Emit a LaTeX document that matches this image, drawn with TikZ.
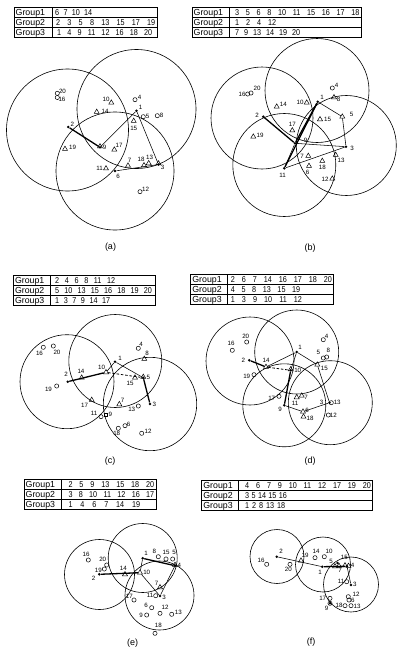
\documentclass[tikz,border=0pt]{standalone}
\usepackage{fontspec}
\setmainfont{Liberation Sans}
\newfontfamily\narrowdigits[FakeStretch=0.85]{Liberation Sans}
\usetikzlibrary{shapes.geometric}
\tikzset{
  ring/.style={line width=0.6pt},
  tabline/.style={line width=0.7pt},
  ptc/.style={circle,draw,line width=0.5pt,inner sep=0pt,minimum size=4.2pt},
  ptt/.style={regular polygon,regular polygon sides=3,draw,line width=0.5pt,inner sep=0pt,minimum size=5.8pt},
  ptd/.style={circle,fill,inner sep=0pt,minimum size=2.8pt},
  pts/.style={rectangle,draw,line width=0.5pt,inner sep=0pt,minimum size=3pt},
  lbl/.style={inner sep=0pt,font=\fontsize{6.2}{7}\selectfont},
  tgrp/.style={anchor=base west,inner sep=0pt,font=\fontsize{8.8}{10}\selectfont},
  tnum/.style={anchor=base west,inner sep=0pt,font=\narrowdigits\fontsize{8.5}{10}\selectfont},
  captext/.style={inner sep=0pt,font=\fontsize{9}{10}\selectfont},
  link/.style={line width=0.55pt},
  heavy/.style={line width=1.3pt},
  dashlink/.style={line width=0.8pt,dash pattern=on 2.5pt off 1.8pt},
}
% group table: #1 prefix, #2 left, #3 top, #4 divider, #5 right
\newcommand\gtab[5]{%
  \draw[tabline] (#2,#3) rectangle (#5,#3+30);
  \draw[tabline] (#2,#3+10) -- (#5,#3+10) (#2,#3+20) -- (#5,#3+20) (#4,#3) -- (#4,#3+30);
  \node[tgrp] (#1g1) at (#2+1.5,#3+8) {Group1};
  \node[tgrp] (#1g2) at (#2+1.5,#3+18) {Group2};
  \node[tgrp] (#1g3) at (#2+1.5,#3+28) {Group3};
}
% one row of members: #1 name, #2 x, #3 baseline, #4 width, #5 numbers
\newcommand\trow[5]{\node[tnum] (#1) at (#2,#3) {\makebox[#4pt][s]{#5}};}
% marker with its number: #1 style, #2 name, #3 position, #4 label position, #5 text
\newcommand\pnt[5]{\node[#1] (#2) at (#3) {}; \node[lbl] (#2-l) at (#4) {#5};}
\begin{document}
\begin{tikzpicture}[x=1pt,y=-1pt]
\fill[white] (0,0) rectangle (398,653);
\useasboundingbox (0,0) rectangle (398,653);

% ---------------- (a)
\gtab{ta}{14}{7.5}{52}{157}
\trow{ta1}{55}{15.5}{37}{6 7 10 14}
\trow{ta2}{56}{25.5}{99}{2 3 5 8 13 15 17 19}
\trow{ta3}{57}{35.5}{95}{1 4 9 11 12 16 18 20}
\draw[ring] (136.5,109) circle[radius=59.5pt];
\draw[ring] (67.5,130) circle[radius=61pt];
\draw[ring] (115,171) circle[radius=59pt];
\pnt{ptc}{a20}{57.3,93.3}{62.5,91}{20}
\pnt{ptc}{a16}{57.3,97.5}{62,99}{16}
\pnt{ptt}{a10}{111.3,102.7}{106,99.5}{10}
\pnt{ptc}{a4}{135,99.7}{139.5,97.5}{4}
\pnt{ptd}{a1}{136.5,110.7}{140.5,107.5}{1}
\pnt{ptc}{a5}{143.3,116.7}{147.5,116.5}{5}
\pnt{ptc}{a8}{157.3,115.7}{161.7,115.5}{8}
\pnt{ptt}{a14}{96.7,112}{105,111.5}{14}
\pnt{ptt}{a15}{133.7,121}{133.7,128.5}{15}
\pnt{ptd}{a2}{68.3,127}{72.3,124.5}{2}
\pnt{ptt}{a19}{65,149}{72.5,147.5}{19}
\node[ptt] (a9t) at (100,146.5) {};
\pnt{ptd}{a9}{100,147.3}{104.5,147.5}{9}
\pnt{ptt}{a17}{114.3,149.7}{119,145.5}{17}
\pnt{ptt}{a7}{128,165.7}{129.7,160}{7}
\pnt{ptt}{a18}{144,165.3}{141,159.5}{18}
\pnt{ptt}{a13}{148.7,163.3}{149.5,157}{13}
\node[ptt] (a3t) at (158.5,163.5) {};
\pnt{ptd}{a3}{158.5,164.5}{162.7,167.5}{3}
\pnt{ptt}{a11}{106,168.5}{99.5,168.5}{11}
\pnt{ptd}{a6}{115,171}{118,176.7}{6}
\pnt{ptc}{a12}{140,191.7}{145.5,189.5}{12}
\draw[heavy] (a2) -- (a9);
\draw[link] (a9) -- (a1) -- (a3) -- (a6);
\node[captext] (capa) at (110.5,247.5) {(a)};

% ---------------- (b)
\gtab{tb}{192}{7.5}{229}{361}
\trow{tb1}{235}{15.5}{124.3}{3 5 6 8 10 11 15 16 17 18}
\trow{tb2}{235}{25.5}{41}{1 2 4 12}
\trow{tb3}{235}{35.5}{65}{7 9 13 14 19 20}
\draw[ring] (317,90.5) circle[radius=52pt];
\draw[ring] (262,118) circle[radius=51pt];
\draw[ring] (346.3,145.5) circle[radius=50pt];
\draw[ring] (284.3,165) circle[radius=51.5pt];
\pnt{ptc}{b16}{247.7,94}{242,94.5}{16}
\pnt{ptc}{b20}{251,93}{257,88.5}{20}
\pnt{ptc}{b4}{332.3,88}{336.7,85.7}{4}
\pnt{ptd}{b1}{317.7,101.7}{322,97}{1}
\pnt{ptt}{b8}{334,97.3}{338.5,99.5}{8}
\pnt{ptt}{b10}{306.7,102.7}{300,102.5}{10}
\pnt{ptt}{b14}{276.7,106.7}{283.3,104.5}{14}
\pnt{ptd}{b2}{263.3,116.7}{257,115.5}{2}
\pnt{ptt}{b5}{342.3,116.7}{351.5,114.5}{5}
\pnt{ptt}{b15}{320,119.3}{327.5,119.3}{15}
\pnt{ptt}{b17}{292.3,130.5}{292.3,124}{17}
\pnt{ptt}{b19}{253.3,136.7}{260,135.5}{19}
\pnt{ptd}{b9}{295,143.3}{305.5,140.7}{9}
\pnt{ptd}{b3}{346,146.7}{352,148.5}{3}
\pnt{ptt}{b7}{308.3,156}{302,156}{7}
\pnt{ptt}{b13}{335.7,155}{341,160}{13}
\pnt{ptt}{b18}{322.3,161}{322.3,167.5}{18}
\pnt{ptd}{b11}{284.3,168.3}{282.7,175}{11}
\pnt{ptt}{b6}{309,166}{307.7,172.5}{6}
\pnt{ptt}{b12}{332.3,178.7}{325,179.3}{12}
\draw[heavy] (b2) -- (b9);
\draw[heavy] (b1) -- (b9);
\draw[heavy] (b1) -- (b11);
\draw[link] (b9) -- (b11);
\draw[link] (b9) -- (b3);
\draw[link] (b1) -- (b5) -- (b3);
\draw[link] (b11) -- (b3);
\node[captext] (capb) at (310,248) {(b)};

% ---------------- (c)
\gtab{tc}{13.3}{275}{50}{155.7}
\trow{tc1}{55}{283}{60}{2 4 6 8 11 12}
\trow{tc2}{55}{293}{96.7}{5 10 13 15 16 18 19 20}
\trow{tc3}{55}{303}{55}{1 3 7 9 14 17}
\draw[ring] (67,381.7) circle[radius=47pt];
\draw[ring] (115.3,361) circle[radius=46.5pt];
\draw[ring] (150,404) circle[radius=46.7pt];
\pnt{ptc}{c16}{43.3,347.3}{39.5,353}{16}
\pnt{ptc}{c20}{53.3,346}{57,352.7}{20}
\pnt{ptc}{c4}{138.3,348.3}{141,344.5}{4}
\pnt{ptt}{c8}{144.3,359}{147,353.5}{8}
\pnt{ptd}{c1}{115,361.7}{120,358.3}{1}
\pnt{ptt}{c10}{106,372.3}{101.5,367}{10}
\pnt{ptt}{c14}{81.7,377.7}{81,371}{14}
\pnt{ptd}{c2}{67.7,381.7}{66,374.5}{2}
\pnt{ptt}{c15}{135,377.7}{130,383.3}{15}
\node[ptt] (c5t) at (143.3,377) {};
\pnt{ptd}{c5}{143.3,377.7}{148.3,377}{5}
\pnt{ptc}{c19}{56.7,386}{48.5,389}{19}
\pnt{ptt}{c17}{91.7,400}{84.5,405}{17}
\pnt{ptt}{c7}{119.3,404.3}{122.7,400}{7}
\pnt{ptc}{c13}{138.3,406}{131.7,409}{13}
\pnt{ptd}{c3}{150,404}{154.3,404}{3}
\pnt{ptc}{c11}{101,416.7}{94,413.5}{11}
\pnt{pts}{c9}{106,414.3}{110.3,414.3}{9}
\pnt{ptc}{c6}{125,425.7}{128.5,424}{6}
\pnt{ptc}{c18}{118.3,428.3}{116.7,433.3}{18}
\pnt{ptc}{c12}{141.7,433.3}{148,431}{12}
\draw[heavy] (c2) -- (c10);
\draw[link] (c10) -- (c1) -- (c5);
\draw[dashlink] (c10) -- (c5);
\draw[heavy] (c5) -- (c3);
\node[captext] (capc) at (110,460.7) {(c)};

% ---------------- (d)
\gtab{td}{190.7}{274.3}{227.7}{333.3}
\trow{td1}{230.7}{282.3}{101}{2 6 7 14 16 17 18 20}
\trow{td2}{230.7}{292.3}{69.3}{4 5 8 13 15 19}
\trow{td3}{230.7}{302.3}{71}{1 3 9 10 11 12}
\draw[ring] (250,361) circle[radius=44pt];
\draw[ring] (296.7,352) circle[radius=42pt];
\draw[ring] (284.3,405.3) circle[radius=41.5pt];
\draw[ring] (330.3,402.7) circle[radius=42pt];
\pnt{ptc}{d16}{232.3,350.3}{231,343.5}{16}
\pnt{ptc}{d20}{246.7,342}{245.7,336.3}{20}
\pnt{ptc}{d4}{323.3,339.7}{326.7,336.3}{4}
\pnt{ptc}{d5}{323.3,358}{318.3,352.3}{5}
\pnt{ptc}{d8}{326.7,357}{328.3,350.7}{8}
\pnt{ptd}{d1}{296.7,352}{300,347.3}{1}
\pnt{ptd}{d2}{249.3,360.3}{243.3,360.7}{2}
\pnt{ptt}{d14}{266,367}{266,360.5}{14}
\pnt{ptt}{d15}{317.3,364.7}{324.3,368}{15}
\node[ptt] (d10t) at (290.7,369.5) {};
\pnt{ptd}{d10}{290.7,370.3}{297.7,370.3}{10}
\pnt{ptc}{d19}{254,374.7}{246.7,376.3}{19}
\pnt{ptc}{d17}{279,396.3}{271.7,398.7}{17}
\pnt{ptt}{d11}{296.7,397.3}{295,403}{11}
\pnt{ptt}{d7}{301.7,395.7}{306,397}{7}
\pnt{ptd}{d9}{284.3,405.3}{280,409.7}{9}
\pnt{ptd}{d3}{329.5,402.7}{321.7,402}{3}
\pnt{ptc}{d13}{331.3,402.7}{337.2,402}{13}
\pnt{ptt}{d6}{303,411.7}{307,410.3}{6}
\pnt{ptt}{d18}{303.5,416.7}{310,418.3}{18}
\pnt{ptc}{d12}{328.3,415}{333.3,415}{12}
\draw[heavy] (d2) -- (d14);
\draw[dashlink] (d14) -- (d10);
\draw[link] (d14) -- (d1) -- (d10);
\draw[heavy] (d10) -- (d9);
\draw[link] (d1) -- (d15) -- (d3);
\draw[link] (d9) -- (d6) -- (d3);
\node[captext] (capd) at (310,460.7) {(d)};

% ---------------- (e)
\gtab{te}{24}{479.3}{61}{156}
\trow{te1}{68.3}{487.3}{85.7}{2 5 9 13 15 18 20}
\trow{te2}{68.3}{497.3}{85.7}{3 8 10 11 12 16 17}
\trow{te3}{68.3}{507.3}{71.7}{1 4 6 7 14 19}
\draw[ring] (99.5,574.5) circle[radius=35pt];
\draw[ring] (142.7,558) circle[radius=34.5pt];
\draw[ring] (159.5,595.5) circle[radius=34.5pt];
\pnt{ptc}{e16}{88.3,560}{86,554}{16}
\pnt{ptc}{e20}{106.7,565}{102.7,559.5}{20}
\pnt{ptc}{e19}{104.3,569}{98.3,570}{19}
\pnt{ptd}{e2}{99.3,574.3}{93.5,578.5}{2}
\pnt{ptd}{e1}{142.7,558.3}{146,553.3}{1}
\pnt{ptc}{e8}{158.3,556.7}{154.3,551.7}{8}
\pnt{ptc}{e15}{166,559}{166,552.3}{15}
\pnt{ptc}{e5}{172.7,559}{174,552.3}{5}
\node[ptt] (e4t) at (175,565) {};
\pnt{ptd}{e4}{175,565.7}{179.3,565.7}{4}
\pnt{ptt}{e14}{125,574.3}{123.3,568.3}{14}
\pnt{ptt}{e10}{140,572.7}{146.7,572}{10}
\pnt{ptt}{e7}{160,587.3}{156.7,583.3}{7}
\pnt{ptc}{e11}{155.7,595.7}{150,595}{11}
\pnt{ptd}{e3}{160,596}{164,597.7}{3}
\pnt{ptc}{e17}{134,600}{129.3,596.7}{17}
\pnt{ptc}{e6}{151.7,607.7}{146,605}{6}
\pnt{ptc}{e12}{160,613.3}{165,607.7}{12}
\pnt{ptc}{e13}{171.7,614.3}{178.3,612.7}{13}
\pnt{ptc}{e9}{146.7,615}{141,615}{9}
\pnt{ptc}{e18}{155,633.3}{158.3,625.5}{18}
\draw[heavy] (e2) -- (e10);
\draw[link] (e10) -- (e1);
\draw[heavy] (e1) -- (e4);
\draw[link] (e10) -- (e3);
\draw[link] (e4) -- (e3);
\node[captext] (cape) at (132.7,643.3) {(e)};

% ---------------- (f)
\gtab{tf}{201.7}{480}{238.3}{372.7}
\trow{tf1}{245}{488}{125.7}{4 6 7 9 10 11 12 17 19 20}
\trow{tf2}{245}{498}{41.7}{3 5 14 15 16}
\trow{tf3}{245}{508}{40}{1 2 8 13 18}
\draw[ring] (277,556.5) circle[radius=27pt];
\draw[ring] (323,564.5) circle[radius=27.5pt];
\draw[ring] (351,584.5) circle[radius=27.5pt];
\pnt{ptd}{f2}{276.7,556.7}{281,551}{2}
\pnt{ptc}{f16}{266.7,564.3}{261,560}{16}
\pnt{ptc}{f20}{290,564.3}{288.3,569.5}{20}
\pnt{ptt}{f19}{301,560.7}{305,555}{19}
\pnt{ptc}{f14}{315,557.7}{316,551}{14}
\pnt{ptc}{f10}{324.3,556.7}{329,551}{10}
\pnt{ptd}{f1}{322.3,566.7}{320,572}{1}
\pnt{ptt}{f5}{335,566.5}{331,561}{5}
\node[ptd] (f8) at (337.5,563) {};
\pnt{ptt}{f15}{345,565.5}{344.3,557.7}{15}
\pnt{ptt}{f7}{339,566}{340,570.5}{7}
\node[ptt] (f4t) at (348.5,566) {};
\pnt{ptd}{f4}{347,566.3}{352.5,565.7}{4}
\pnt{ptc}{f11}{346.7,581.7}{341,581}{11}
\pnt{ptd}{f3}{351,585}{354.8,584.5}{3}
\pnt{ptc}{f12}{348.3,596.7}{356,594.3}{12}
\pnt{ptc}{f6}{349,600}{352.8,600.5}{6}
\pnt{ptc}{f17}{330,598.3}{322.7,598.3}{17}
\node[ptc] (f9c) at (330,603.3) {};
\pnt{ptd}{f9}{330,603.3}{326.7,608}{9}
\pnt{ptc}{f18}{345,605.7}{339,605.7}{18}
\pnt{ptc}{f13}{351,605.7}{357,606.7}{13}
\draw[link] (f2) -- (f1);
\draw[heavy] (f1) -- (f4);
\draw[link] (f4) -- (f3);
\node[captext] (capf) at (311,641.7) {(f)};
\end{tikzpicture}
\end{document}
